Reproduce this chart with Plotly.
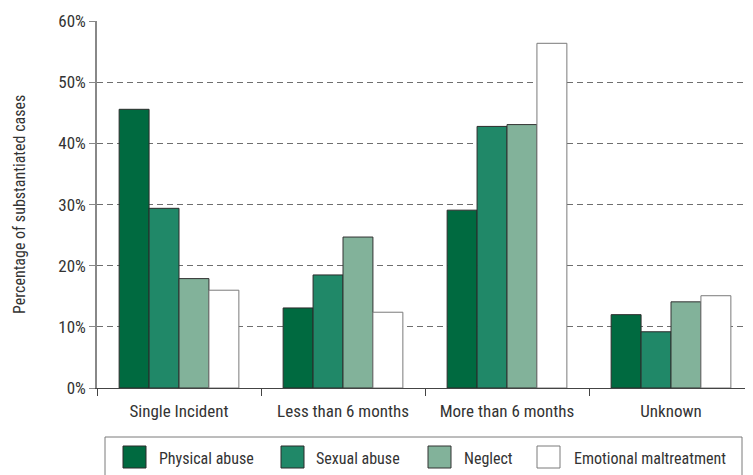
import plotly.graph_objects as go

# data (percent of substantiated cases)
categories = ['Single Incident', 'Less than 6 months', 'More than 6 months', 'Unknown']
series_names = ['Physical abuse', 'Sexual abuse', 'Neglect', 'Emotional maltreatment']
physical_abuse = [45.6, 13.1, 29.1, 12.0]
sexual_abuse = [29.4, 18.5, 42.8, 9.2]
neglect = [17.9, 24.7, 43.1, 14.1]
emotional_maltreatment = [16.0, 12.4, 56.4, 15.1]
y_ticks = [0, 10, 20, 30, 40, 50, 60]
y_tick_labels = ['0%', '10%', '20%', '30%', '40%', '50%', '60%']

fills = ['#006a40', '#208868', '#82b29a', '#ffffff']
edges = ['#2b2b2b', '#2b2b2b', '#333333', '#7a7a7a']
values = [physical_abuse, sexual_abuse, neglect, emotional_maltreatment]

FONT = 'Liberation Sans Narrow, Arial Narrow, Roboto Condensed, Roboto, sans-serif'
OFF = 8  # page body margin in the browser
W, H = 753 - OFF, 475 - OFF
L, R, T, B = 97 - OFF, 0, 21 - OFF, 87
pw, ph = W - L - R, H - T - B


# helpers: pixel positions in the reference picture -> paper coords
def px(x):
    return (x - OFF - L) / pw


def py(y):
    return (H - B - (y - OFF)) / ph


fig = go.Figure()
for name, vals, fc, ec in zip(series_names, values, fills, edges):
    fig.add_trace(go.Bar(
        x=categories, y=vals, name=name,
        marker=dict(color=fc, line=dict(color=ec, width=1)),
        showlegend=False))

# hand-built legend box to get the big square swatches
shapes = [dict(type='rect', xref='paper', yref='paper',
               x0=px(105), x1=px(742), y0=py(437), y1=py(485),
               line=dict(color='#7a7a7a', width=1), fillcolor='rgba(0,0,0,0)')]
annotations = []
swatch_x = [123, 281, 428, 537]
text_x = [157, 314, 462, 572]
for name, fc, ec, sx, tx in zip(series_names, fills, edges, swatch_x, text_x):
    shapes.append(dict(type='rect', xref='paper', yref='paper',
                       x0=px(sx), x1=px(sx + 23), y0=py(446), y1=py(468),
                       line=dict(color=ec, width=1), fillcolor=fc))
    annotations.append(dict(text=name, xref='paper', yref='paper',
                            x=px(tx), y=py(458), xanchor='left', yanchor='middle',
                            showarrow=False, font=dict(size=16, color='#333333')))

annotations.append(dict(text='Percentage of substantiated cases', xref='paper', yref='paper',
                        x=px(19), y=py(205), textangle=-90, showarrow=False,
                        xanchor='center', yanchor='middle',
                        font=dict(size=16, color='#333333')))

fig.update_layout(
    width=W, height=H,
    margin=dict(l=L, r=R, t=T, b=B),
    barmode='group', bargap=0.27, bargroupgap=0,
    paper_bgcolor='white', plot_bgcolor='white',
    font=dict(family=FONT, size=17, color='#333333'),
    shapes=shapes, annotations=annotations,
    xaxis=dict(
        showline=True, linecolor='#444444', linewidth=1,
        ticks='outside', tickson='boundaries', ticklen=7, tickcolor='#444444',
        ticklabelstandoff=8,
        showgrid=False, tickfont=dict(size=17),
    ),
    yaxis=dict(
        range=[0, 60.05], tickvals=y_ticks, ticktext=y_tick_labels,
        showline=True, linecolor='#888888', linewidth=1.5,
        ticks='outside', ticklen=6, tickcolor='#888888',
        showgrid=True, gridcolor='#6f6f6f', gridwidth=1, griddash='6px,4px',
        zeroline=False, tickfont=dict(size=17),
    ),
)

fig.write_html('out.html')
